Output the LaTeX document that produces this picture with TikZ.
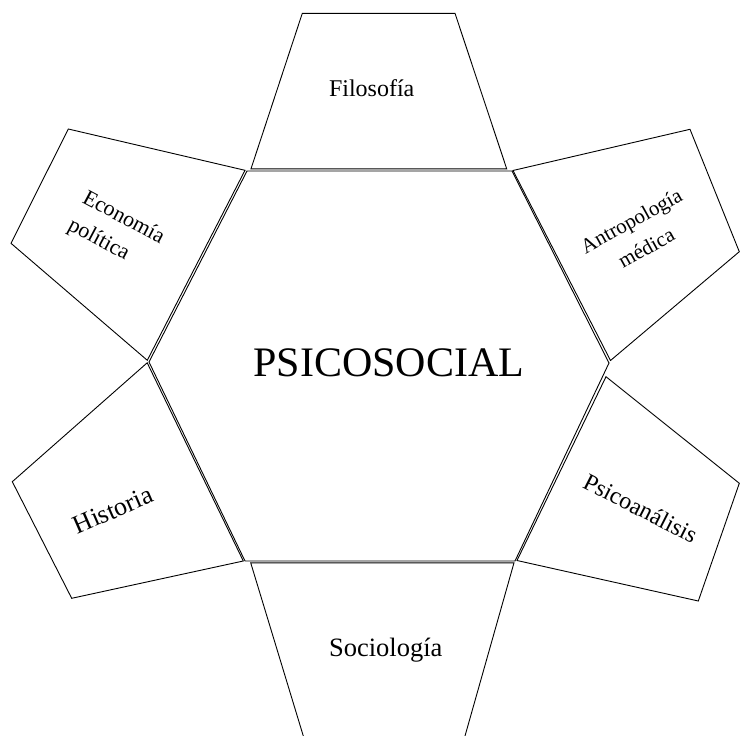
\documentclass[tikz,border=0pt]{standalone}
\usepackage{fontspec}
\setmainfont{Liberation Serif}
\begin{document}
\begin{tikzpicture}[x=1pt,y=-1pt,
  piece/.style={draw=black,line width=0.9pt,line join=miter},
  lbl/.style={inner sep=0pt,text=black}]
\useasboundingbox (0,0) rectangle (740,736);
\clip (0,0) rectangle (740,736);
% central hexagon
\draw[piece] (247,171) -- (512,171) -- (609,363) -- (515,561) -- (245,561) -- (149,362) -- cycle;
% Filosofia
\draw[piece] (302.3,13.3) -- (455,13.3) -- (506.7,168.8) -- (251,168.8) -- cycle;
% Economia politica
\draw[piece] (68.3,129) -- (11,243.3) -- (147.3,360.3) -- (245,170.3) -- cycle;
% Antropologia medica
\draw[piece] (513,170.5) -- (690,129.3) -- (739.3,251.7) -- (610.5,360.5) -- cycle;
% Historia
\draw[piece] (147.2,362.8) -- (12.3,481.7) -- (71.7,598.3) -- (243.3,561) -- cycle;
% Psicoanalisis
\draw[piece] (606,376.7) -- (739.3,483.3) -- (698.3,601) -- (517,560.5) -- cycle;
% Sociologia
\draw[piece] (310.6,760) -- (250.7,562.8) -- (514,562.8) -- (458.2,760);
% labels
\node[lbl,anchor=base,font=\fontsize{42}{48}\selectfont] (psico) at (388.8,376) {PSICOSOCIAL};
\node[lbl,anchor=base,font=\fontsize{24}{28}\selectfont] (filo) at (371.7,96.7) {Filosofía};
\node[lbl,anchor=base,font=\fontsize{26.5}{30}\selectfont] (socio) at (385.7,656.7) {Sociología};
\node[lbl,rotate=-28,align=left,font=\fontsize{22}{31}\selectfont] (econ) at (116,232) {Economía\\política};
\node[lbl,rotate=29,align=center,font=\fontsize{21}{31}\selectfont] (antro) at (638.7,234.2) {Antropología\\médica};
\node[lbl,rotate=23.5,font=\fontsize{26}{30}\selectfont] (hist) at (113,510) {Historia};
\node[lbl,rotate=-27,font=\fontsize{24}{28}\selectfont] (psicoa) at (640.7,508.3) {Psicoanálisis};
\end{tikzpicture}
\end{document}
